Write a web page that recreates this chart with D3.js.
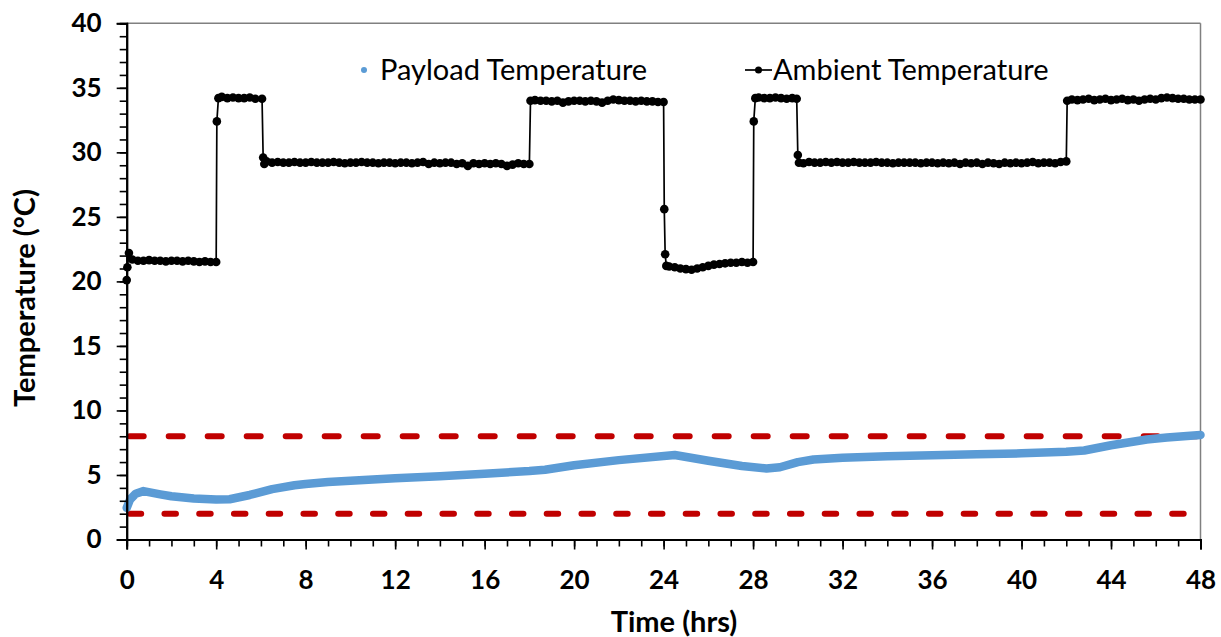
<!DOCTYPE html>
<html><head><meta charset="utf-8">
<script src="https://cdn.jsdelivr.net/npm/d3@7"></script>
<style>
html,body{margin:0;padding:0;background:#fff;}
text{font-family:Lato,"Open Sans",sans-serif;}
</style></head>
<body>
<svg id="chart" width="1221" height="637"></svg>
<script>
// ---- data ----
const xTicks = [0,4,8,12,16,20,24,28,32,36,40,44,48];
const yTicks = [0,5,10,15,20,25,30,35,40];
const limitUpper = 8;
const limitLower = 2;
const seriesNames = ["Payload Temperature", "Ambient Temperature"];

const payloadTime = [0,0.15,0.4,0.75,1.5,2,3,4,4.6,5.5,6.5,7.5,8,9,10,12,14,16,18,18.7,20,22,24.5,26,27.5,28.6,29.2,30,30.7,32,34,36,38,40,42,42.8,44,45.6,46.5,48];
const payloadTemp = [2.45,3.1,3.55,3.75,3.5,3.35,3.18,3.1,3.12,3.45,3.9,4.2,4.3,4.45,4.56,4.75,4.9,5.1,5.3,5.4,5.75,6.15,6.55,6.1,5.7,5.5,5.6,6.0,6.2,6.33,6.45,6.52,6.6,6.68,6.8,6.9,7.3,7.75,7.9,8.1];

const ambient = [
[0,20.1],[0.03,21.1],[0.1,22.2],[0.25,21.7],[0.5,21.6],[0.75,21.6],[1,21.65],[1.25,21.6],[1.5,21.6],[1.75,21.55],[2,21.6],[2.25,21.6],[2.5,21.55],[2.75,21.6],[3,21.55],[3.25,21.5],[3.5,21.55],[3.75,21.5],[4,21.5],
[4.03,32.4],[4.1,34.2],[4.25,34.3],[4.5,34.2],[4.75,34.25],[5,34.2],[5.25,34.2],[5.5,34.25],[5.75,34.15],[6.05,34.15],
[6.1,29.6],[6.15,29.1],[6.25,29.3],[6.5,29.2],[6.75,29.25],[7,29.2],[7.25,29.2],[7.5,29.25],[7.75,29.2],[8,29.2],[8.25,29.25],[8.5,29.2],[8.75,29.2],[9,29.2],[9.25,29.25],[9.5,29.2],[9.75,29.15],[10,29.2],[10.25,29.2],[10.5,29.25],[10.75,29.2],[11,29.2],[11.25,29.15],[11.5,29.2],[11.75,29.2],[12,29.15],[12.25,29.2],[12.5,29.2],[12.75,29.15],[13,29.2],[13.25,29.25],[13.5,29.1],[13.75,29.2],[14,29.15],[14.25,29.2],[14.5,29.2],[14.75,29.1],[15,29.15],[15.25,28.95],[15.5,29.15],[15.75,29.1],[16,29.15],[16.25,29.1],[16.5,29.15],[16.75,29.1],[17,28.95],[17.25,29.05],[17.5,29.15],[17.75,29.1],[18,29.1],
[18.05,34.0],[18.25,34.05],[18.5,34.0],[18.75,34.0],[19,33.95],[19.25,34.0],[19.5,33.85],[19.75,33.95],[20,34.0],[20.25,34.0],[20.5,33.95],[20.75,34.0],[21,33.95],[21.25,33.85],[21.5,34.0],[21.75,34.1],[22,34.05],[22.25,34.0],[22.5,34.0],[22.75,33.95],[23,34.0],[23.25,33.95],[23.5,33.95],[23.75,33.9],[24,33.9],
[24.03,25.6],[24.07,22.1],[24.12,21.2],[24.25,21.15],[24.5,21.1],[24.75,21.0],[25,20.95],[25.25,20.9],[25.5,21.0],[25.75,21.1],[26,21.2],[26.25,21.3],[26.5,21.35],[26.75,21.4],[27,21.45],[27.25,21.45],[27.5,21.5],[27.75,21.45],[28,21.5],
[28.03,32.4],[28.1,34.2],[28.25,34.25],[28.5,34.2],[28.75,34.2],[29,34.25],[29.25,34.2],[29.5,34.15],[29.75,34.2],[29.95,34.15],
[30,29.8],[30.05,29.2],[30.25,29.15],[30.5,29.25],[30.75,29.2],[31,29.2],[31.25,29.25],[31.5,29.2],[31.75,29.25],[32,29.2],[32.25,29.2],[32.5,29.25],[32.75,29.2],[33,29.2],[33.25,29.2],[33.5,29.25],[33.75,29.2],[34,29.2],[34.25,29.15],[34.5,29.2],[34.75,29.2],[35,29.2],[35.25,29.2],[35.5,29.15],[35.75,29.2],[36,29.2],[36.25,29.15],[36.5,29.2],[36.75,29.15],[37,29.2],[37.25,29.1],[37.5,29.2],[37.75,29.15],[38,29.2],[38.25,29.1],[38.5,29.2],[38.75,29.15],[39,29.1],[39.25,29.2],[39.5,29.15],[39.75,29.2],[40,29.15],[40.25,29.2],[40.5,29.25],[40.75,29.15],[41,29.2],[41.25,29.2],[41.5,29.15],[41.75,29.25],[42,29.3],
[42.04,34.0],[42.25,34.1],[42.5,34.05],[42.75,34.1],[43,34.15],[43.25,34.05],[43.5,34.1],[43.75,34.15],[44,34.05],[44.25,34.1],[44.5,34.15],[44.75,34.05],[45,34.1],[45.25,34.0],[45.5,34.1],[45.75,34.15],[46,34.1],[46.25,34.2],[46.5,34.25],[46.75,34.2],[47,34.15],[47.25,34.15],[47.5,34.1],[47.75,34.1],[48,34.1]
];

// ---- layout ----
const svg = d3.select("#chart");
const L = 126.7, R = 1200.5, T = 23.3, B = 539.5;
const x = d3.scaleLinear().domain([0,48]).range([L,R]);
const y = d3.scaleLinear().domain([0,40]).range([B,T]);

// frame (top/right grey)
svg.append("line").attr("x1",L).attr("x2",R).attr("y1",T).attr("y2",T).attr("stroke","#808080").attr("stroke-width",1.5);
svg.append("line").attr("x1",R).attr("x2",R).attr("y1",T).attr("y2",B).attr("stroke","#808080").attr("stroke-width",1.5);

// limit lines
svg.append("line").attr("x1",x(0)+3).attr("x2",x(48)).attr("y1",y(limitUpper)).attr("y2",y(limitUpper))
  .attr("stroke","#C00000").attr("stroke-width",6).attr("stroke-linecap","round").attr("stroke-dasharray","14,25");
svg.append("line").attr("x1",x(0)+3).attr("x2",x(48)).attr("y1",y(limitLower)).attr("y2",y(limitLower))
  .attr("stroke","#C00000").attr("stroke-width",6).attr("stroke-linecap","round").attr("stroke-dasharray","11.5,23.25");

// payload
const line = d3.line().x(d=>x(d[0])).y(d=>y(d[1]));
svg.append("path").datum(payloadTime.map((t,i)=>[t,payloadTemp[i]]))
  .attr("d",line).attr("fill","none").attr("stroke","#5B9BD5").attr("stroke-width",8.5)
  .attr("stroke-linecap","round").attr("stroke-linejoin","round");

// ambient
svg.append("path").datum(ambient).attr("d",line).attr("fill","none").attr("stroke","#000").attr("stroke-width",1.7);
svg.append("g").selectAll("circle").data(ambient).join("circle")
  .attr("cx",d=>x(d[0])).attr("cy",d=>y(d[1])).attr("r",4.3).attr("fill","#000");

// axes
function styleAxis(g){
  g.select(".domain").attr("stroke","#000").attr("stroke-width",2);
  g.selectAll(".tick line").attr("stroke","#000").attr("stroke-width",1.6);
}
const yMinor = svg.append("g").attr("transform",`translate(${L},0)`)
  .call(d3.axisLeft(y).tickValues(d3.range(0,41,1)).tickSize(7).tickFormat(""));
styleAxis(yMinor);
const yMajor = svg.append("g").attr("transform",`translate(${L},0)`)
  .call(d3.axisLeft(y).tickValues(yTicks).tickSize(10).tickPadding(15).tickFormat(d3.format("d")));
styleAxis(yMajor);
yMajor.selectAll(".tick text").attr("font-size",26).attr("font-weight","bold").attr("fill","#000")
  .attr("font-family","Lato,'Open Sans',sans-serif");

const xMinor = svg.append("g").attr("transform",`translate(0,${B})`)
  .call(d3.axisBottom(x).tickValues(d3.range(0,49,1)).tickSize(7).tickFormat(""));
styleAxis(xMinor);
const xMajor = svg.append("g").attr("transform",`translate(0,${B})`)
  .call(d3.axisBottom(x).tickValues(xTicks).tickSize(10).tickPadding(21).tickFormat(d3.format("d")));
styleAxis(xMajor);
xMajor.selectAll(".tick text").attr("font-size",26).attr("font-weight","bold").attr("fill","#000")
  .attr("font-family","Lato,'Open Sans',sans-serif");

// titles
svg.append("text").attr("x",674).attr("y",632).attr("text-anchor","middle")
  .attr("font-size",29).attr("font-weight","bold").text("Time (hrs)");
svg.append("text").attr("transform","translate(35,298) rotate(-90)").attr("text-anchor","middle")
  .attr("font-size",29).attr("font-weight","bold").text("Temperature (°C)");

// legend
svg.append("circle").attr("cx",364).attr("cy",70).attr("r",3).attr("fill","#5B9BD5");
svg.append("text").attr("x",380).attr("y",80).attr("font-size",29).text(seriesNames[0]);
svg.append("line").attr("x1",745).attr("x2",772).attr("y1",70).attr("y2",70).attr("stroke","#000").attr("stroke-width",1.7);
svg.append("circle").attr("cx",758.5).attr("cy",70).attr("r",3.5).attr("fill","#000");
svg.append("text").attr("x",773).attr("y",80).attr("font-size",29).text(seriesNames[1]);
</script>
</body></html>
